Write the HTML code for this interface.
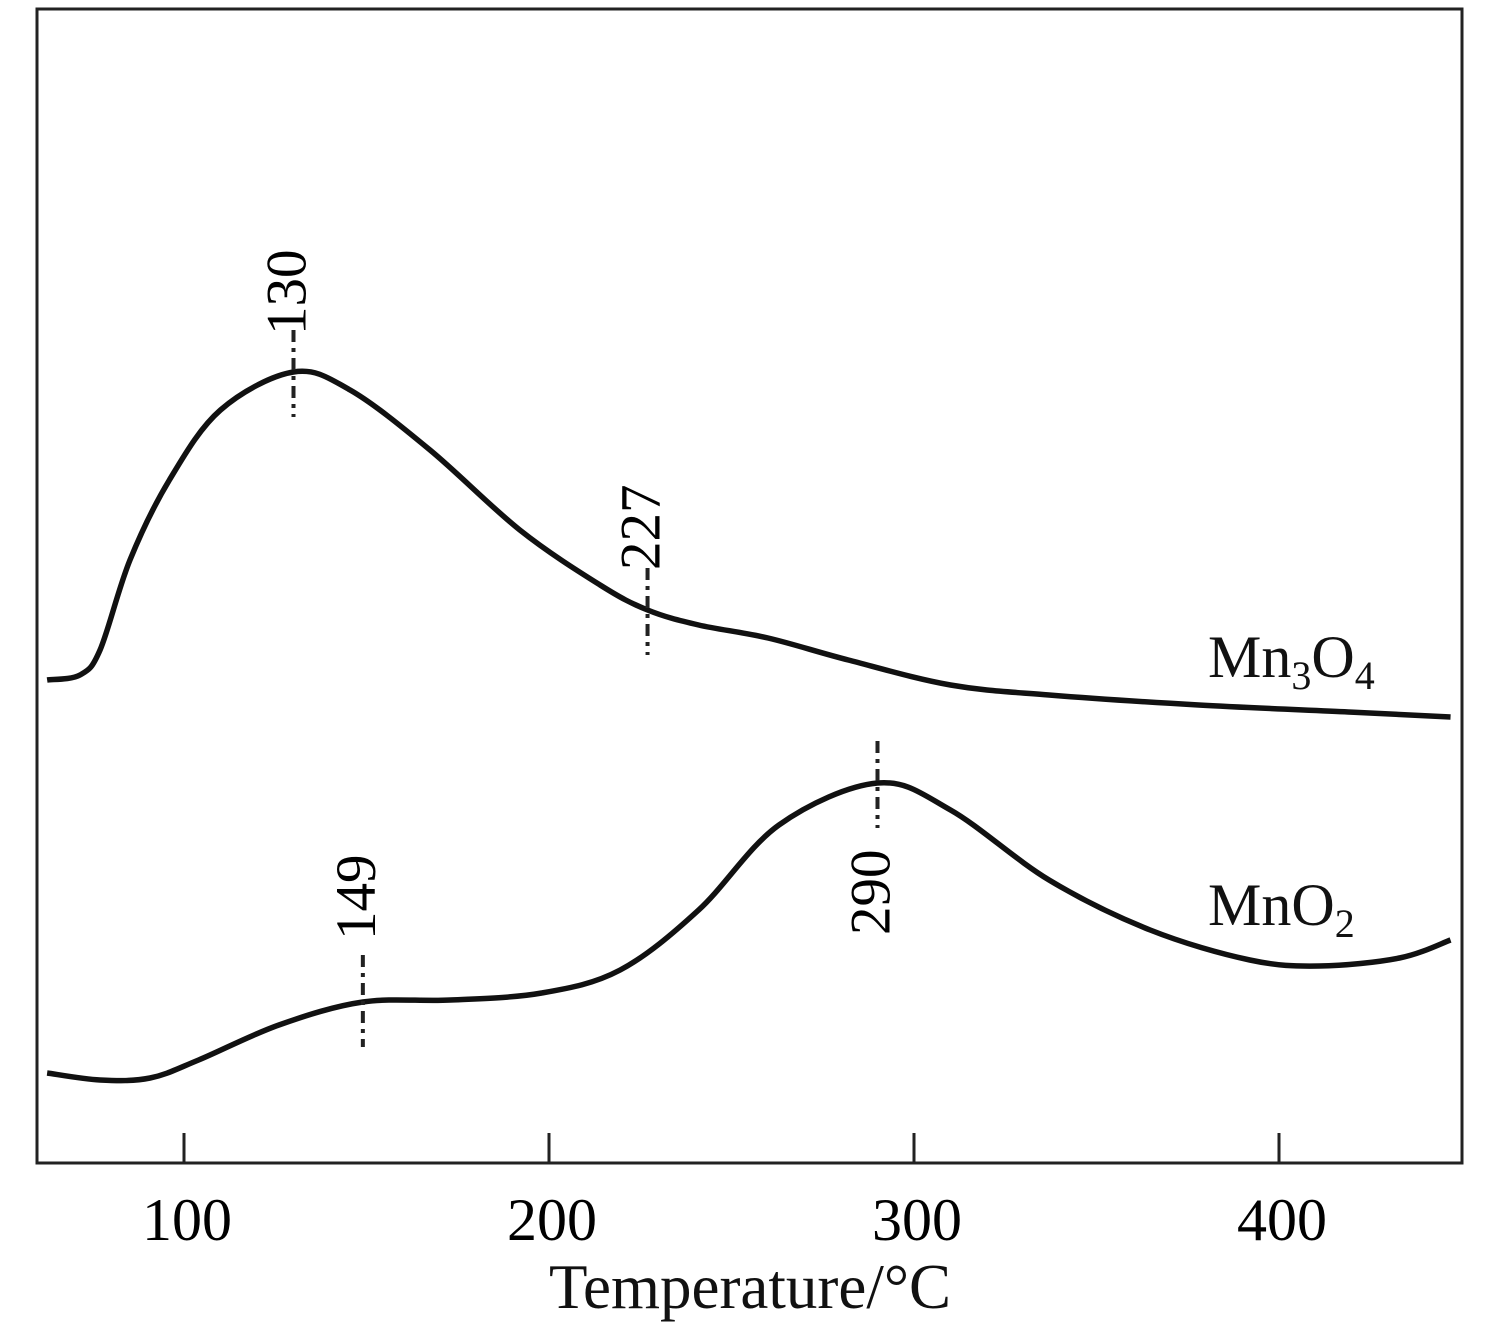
<!DOCTYPE html>
<html><head><meta charset="utf-8"><style>
body{margin:0;background:#fff}
svg{display:block;font-family:"Liberation Serif",serif}
</style></head><body>
<svg id="chart" width="1503" height="1342" viewBox="0 0 1503 1342">
<rect x="37" y="9" width="1425" height="1154" fill="none" stroke="#222" stroke-width="3"/>
<g id="ticks"></g><g id="curves"></g><g id="marks"></g>
<text x="750" y="1308" font-size="63" text-anchor="middle" fill="#111">Temperature/°C</text>
<text x="1208" y="677" font-size="60" fill="#111">Mn<tspan font-size="40" dy="12">3</tspan><tspan dy="-12">O</tspan><tspan font-size="40" dy="12">4</tspan></text>
<text x="1208" y="925" font-size="60" fill="#111">MnO<tspan font-size="40" dy="12">2</tspan></text>
</svg>
<script>
const xTicks=[100,200,300,400];
const mn3o4T=[62.5,71.5,77,85.2,96,110,130,145.5,167.4,192,214,227,241,260,282,310,337,378,419,447];
const mn3o4V=[483,488,513,603,683,753,791,773,713,633,578,553,538,525,503,478,468,458,451,446];
const mno2T=[62.5,77,90.7,104,126,149,173,198,219.5,241,263,290,310,337,364.7,392,411,433,447];
const mno2V=[90,83,85,103,138,161,163,170,193,253,338,380,353,283,233,203,197,205,223];
const peakT=[130,227,149,290];
const peakV=[791,553,161,380];
const peakLabels=["130","227","149","290"];
const NS='http://www.w3.org/2000/svg';
const X=t=>184+(t-100)*3.65;
const Y=v=>1163-v;
const labelOff=[-37,-40,-62,152];
function path(ts,vs){const p=ts.map((t,i)=>[X(t),Y(vs[i])]);let d=`M${p[0][0]},${p[0][1]}`;
for(let i=0;i<p.length-1;i++){const a=p[Math.max(i-1,0)],b=p[i],c=p[i+1],e=p[Math.min(i+2,p.length-1)];
d+=` C${b[0]+(c[0]-a[0])/6},${b[1]+(c[1]-a[1])/6} ${c[0]-(e[0]-b[0])/6},${c[1]-(e[1]-b[1])/6} ${c[0]},${c[1]}`;}return d;}
const tg=document.getElementById('ticks');
xTicks.forEach(t=>{const l=document.createElementNS(NS,'line');
l.setAttribute('x1',X(t));l.setAttribute('x2',X(t));l.setAttribute('y1',1133);l.setAttribute('y2',1163);l.setAttribute('stroke','#222');l.setAttribute('stroke-width',3);


tg.appendChild(l);
const tx=document.createElementNS(NS,'text');tx.setAttribute('x',X(t)+3);tx.setAttribute('y',1240);tx.setAttribute('font-size',60);tx.setAttribute('text-anchor','middle');tx.textContent=t;


tg.appendChild(tx);});
const cg=document.getElementById('curves');
[[mn3o4T,mn3o4V,'mn3o4-curve'],[mno2T,mno2V,'mno2-curve']].forEach(s=>{const p=document.createElementNS(NS,'path');
p.setAttribute('d',path(s[0],s[1]));p.setAttribute('fill','none');p.setAttribute('stroke','#111');p.setAttribute('stroke-width',5.5);


cg.appendChild(p);});
const mg=document.getElementById('marks');
peakT.forEach((t,i)=>{const x=X(t),y=Y(peakV[i]);const l=document.createElementNS(NS,'line');
const top=i===2?y-47:y-42;
l.setAttribute('x1',x);l.setAttribute('x2',x);l.setAttribute('y1',top);l.setAttribute('y2',y+45);l.setAttribute('stroke','#222');l.setAttribute('stroke-width',4);l.setAttribute('stroke-dasharray','12 6 4 6');


mg.appendChild(l);
const tx=document.createElementNS(NS,'text');tx.setAttribute('font-size',57);tx.setAttribute('transform',`translate(${x+12},${y+labelOff[i]}) rotate(-90)`);tx.textContent=peakLabels[i];


mg.appendChild(tx);});
</script>
</body></html>
